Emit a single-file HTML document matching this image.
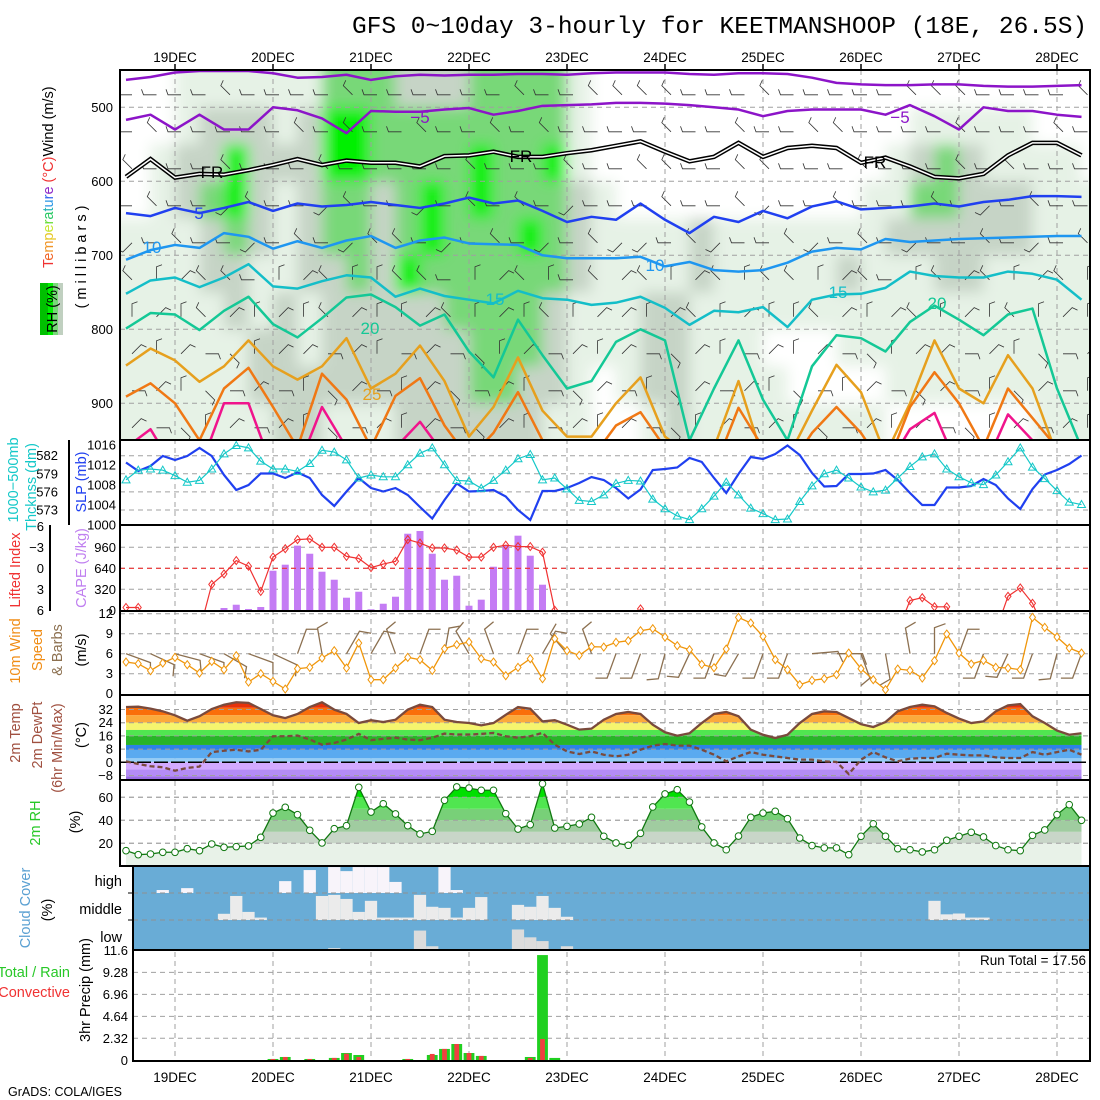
<!DOCTYPE html>
<html><head><meta charset="utf-8"><title>GFS meteogram KEETMANSHOOP</title>
<style>
html,body{margin:0;padding:0;background:#fff;}
svg{display:block;font-family:"Liberation Sans",sans-serif;}
.tk{font-size:13px;fill:#000;}
.lb{font-size:14.5px;}
</style></head>
<body>
<svg id="chart" xmlns="http://www.w3.org/2000/svg" width="1100" height="1100" viewBox="0 0 1100 1100">
<defs>
<clipPath id="cTop"><rect x="120" y="70" width="970" height="370"/></clipPath>
<clipPath id="cP2"><rect x="120" y="440" width="970" height="85"/></clipPath>
<clipPath id="cP3"><rect x="120" y="525" width="970" height="86"/></clipPath>
<clipPath id="cP4"><rect x="120" y="611" width="970" height="83"/></clipPath>
<clipPath id="cP5"><rect x="120" y="695" width="970" height="85"/></clipPath>
<clipPath id="cP6"><rect x="120" y="780" width="970" height="86"/></clipPath>
<clipPath id="cTempFill"><polygon id="tempPoly" points=""/></clipPath>
<clipPath id="cRhFill"><polygon id="rhPoly" points=""/></clipPath>
<filter id="blur" x="-5%" y="-5%" width="110%" height="110%"><feGaussianBlur stdDeviation="7"/></filter>
</defs>
<rect x="0" y="0" width="1100" height="1100" fill="#fff"/>
<text x="352" y="33" style="font-family:'Liberation Mono',monospace;font-size:24.5px">GFS 0~10day 3-hourly for KEETMANSHOOP (18E, 26.5S)</text>

<g id="gTopRH" clip-path="url(#cTop)"><g id="gTopRHinner" filter="url(#blur)"></g></g>
<g id="gGrid"></g>
<g id="gTopBarbs" clip-path="url(#cTop)"></g>
<g id="gIso" clip-path="url(#cTop)"></g>
<g id="gP2" clip-path="url(#cP2)"></g>
<g id="gP3" clip-path="url(#cP3)"></g>
<g id="gP4" clip-path="url(#cP4)"></g>
<g id="gP5" clip-path="url(#cP5)"></g>
<g id="gP6" clip-path="url(#cP6)"></g>
<g id="gCloud"></g>
<g id="gPrecip"></g>
<g id="gTicks"></g>

<g fill="none" stroke="#000" stroke-width="2">
<rect x="120" y="70" width="970" height="370"/>
<rect x="120" y="440" width="970" height="85"/>
<rect x="120" y="525" width="970" height="86"/>
<rect x="120" y="611" width="970" height="84"/>
<rect x="120" y="695" width="970" height="85"/>
<rect x="120" y="780" width="970" height="86"/>
<rect x="133" y="866" width="957" height="84"/>
<rect x="133" y="950" width="957" height="111"/>
<line x1="69" y1="440" x2="69" y2="525"/>
<line x1="50" y1="525" x2="50" y2="611"/>
</g>

<g>
<rect x="40" y="283" width="8" height="52" fill="#00c000"/><rect x="48" y="283" width="5" height="52" fill="#00f000"/><rect x="53" y="283" width="5" height="52" fill="#78d878"/><rect x="58" y="283" width="5" height="52" fill="#c0d0c0"/>
<text transform="translate(57,309) rotate(-90)" text-anchor="middle" class="lb">RH (%)</text>
</g>
<text transform="translate(53,268) rotate(-90)" class="lb"><tspan fill="#f03232">T</tspan><tspan fill="#f06428">e</tspan><tspan fill="#f09628">m</tspan><tspan fill="#e6c828">p</tspan><tspan fill="#c8e632">e</tspan><tspan fill="#64dc32">r</tspan><tspan fill="#28c864">a</tspan><tspan fill="#28b4b4">t</tspan><tspan fill="#2896e6">u</tspan><tspan fill="#3264f0">r</tspan><tspan fill="#8c28c8">e</tspan><tspan fill="#f03232"> (°C)</tspan><tspan fill="#000">Wind (m/s)</tspan></text>
<text transform="translate(86,255) rotate(-90)" text-anchor="middle" class="lb" style="letter-spacing:4px">(millibars)</text>

<text transform="translate(18,480) rotate(-90)" text-anchor="middle" class="lb" fill="#14c8c8">1000−500mb</text>
<text transform="translate(36,487) rotate(-90)" text-anchor="middle" class="lb" fill="#14c8c8">Thcknss (dm)</text>
<text transform="translate(86,482) rotate(-90)" text-anchor="middle" class="lb" fill="#2040f0">SLP (mb)</text>
<text transform="translate(20,570) rotate(-90)" text-anchor="middle" class="lb" fill="#f03232">Lifted Index</text>
<text transform="translate(86,568) rotate(-90)" text-anchor="middle" class="lb" fill="#c080f0">CAPE (J/kg)</text>
<text transform="translate(20,651) rotate(-90)" text-anchor="middle" class="lb" fill="#f08c14">10m Wind</text>
<text transform="translate(42,650) rotate(-90)" text-anchor="middle" class="lb" fill="#f08c14">Speed</text>
<text transform="translate(62,650) rotate(-90)" text-anchor="middle" class="lb" fill="#8c7050">&amp; Barbs</text>
<text transform="translate(86,650) rotate(-90)" text-anchor="middle" class="lb">(m/s)</text>
<text transform="translate(20,733) rotate(-90)" text-anchor="middle" class="lb" fill="#a05040">2m Temp</text>
<text transform="translate(42,735) rotate(-90)" text-anchor="middle" class="lb" fill="#a05040">2m DewPt</text>
<text transform="translate(62,748) rotate(-90)" text-anchor="middle" class="lb" fill="#a05040">(6hr Min/Max)</text>
<text transform="translate(86,735) rotate(-90)" text-anchor="middle" class="lb">(°C)</text>
<text transform="translate(40,823) rotate(-90)" text-anchor="middle" class="lb" fill="#28c828">2m RH</text>
<text transform="translate(80,822) rotate(-90)" text-anchor="middle" class="lb">(%)</text>
<text transform="translate(30,908) rotate(-90)" text-anchor="middle" class="lb" fill="#5aa0d2">Cloud Cover</text>
<text transform="translate(52,910) rotate(-90)" text-anchor="middle" class="lb">(%)</text>
<text x="122" y="886" text-anchor="end" class="lb">high</text>
<text x="122" y="914" text-anchor="end" class="lb">middle</text>
<text x="122" y="942" text-anchor="end" class="lb">low</text>
<text x="70" y="977" text-anchor="end" class="lb" fill="#28c828">Total / Rain</text>
<text x="70" y="997" text-anchor="end" class="lb" fill="#f03232">Convective</text>
<text transform="translate(90,990) rotate(-90)" text-anchor="middle" class="lb">3hr Precip (mm)</text>
<text x="1086" y="965" text-anchor="end" style="font-size:13.5px">Run Total = 17.56</text>
<text x="8" y="1096" style="font-size:12.5px">GrADS: COLA/IGES</text>
</svg>
<script>
// ---------- data ----------
const days = ["19DEC","20DEC","21DEC","22DEC","23DEC","24DEC","25DEC","26DEC","27DEC","28DEC"];
const pressTicks = [500,600,700,800,900];
const isoM10 = [463,459,453,451,451,451,454,460,459,456,463,458,456,457,456,456,455,455,456,454,453,453,453,455,456,454,454,455,460,467,469,470,470,469,469,471,472,472,471,470];
const isoM5 = [517,510,530,510,530,530,500,504,515,535,505,506,506,503,501,510,505,498,497,496,494,494,495,497,500,503,512,505,503,503,503,510,497,512,530,500,505,505,510,513];
const isoFR = [594,570,595,590,591,585,578,570,578,572,575,575,580,566,565,560,567,567,562,558,552,546,560,573,567,548,567,555,552,555,575,568,580,594,596,590,565,548,548,565];
const iso5 = [643,647,636,643,636,628,640,630,634,632,628,632,636,630,622,630,626,640,655,648,652,630,652,670,648,655,640,650,634,627,638,636,634,630,634,628,625,620,620,621];
const iso10 = [706,693,686,690,670,675,691,681,690,680,674,690,680,676,684,685,686,700,704,704,704,702,715,709,720,722,720,710,695,690,692,678,682,680,678,677,676,675,674,674];
const iso15 = [752,734,730,743,730,712,742,745,735,727,730,756,745,755,760,765,748,758,760,767,764,756,771,794,775,777,770,797,760,753,752,744,722,728,730,730,722,725,733,760];
const iso20 = [799,778,780,801,775,756,793,811,785,757,753,770,795,780,830,865,787,835,880,870,817,800,815,950,880,815,895,950,850,808,812,830,790,768,787,808,780,772,880,960];
const iso25 = [849,826,842,871,850,815,850,868,850,812,880,860,822,870,945,905,838,910,945,945,900,865,945,970,960,870,975,975,910,848,885,970,900,815,880,900,835,880,970,990];
const iso30 = [891,873,900,950,880,852,905,960,860,895,960,890,866,930,975,940,885,950,980,975,930,912,960,980,990,906,960,990,940,905,940,990,905,858,900,960,880,920,960,990];
const iso35 = [960,935,990,990,900,900,990,990,905,960,990,960,925,970,990,990,990,990,990,990,990,990,990,990,990,990,990,990,990,990,990,990,935,913,990,990,915,950,990,990];
const rhCols = ["0000111111","0011111111","1122111111","1223221111","1244322111","1222211221","1121112222","1222221122","3443322221","3443332221","3332222221","2333342222","2334432222","2333333222","3344333332","3333333332","3333433322","3343332221","1112221111","0001111100","0000111110","0000112221","0000112222","0000221111","0000111111","0000111111","0000111011","0000111001","0000111001","0000121101","0001111101","0011211110","0123211110","0133221110","0122221110","0112211110","0112211110","0011111111","0011111111","0001111111"];
const barb475 = "6666766667666666766777766676666677766667";
const barb525 = "6766666767667667676666766766776666766676";
const barb575 = "7666766676666676667667766776667666767666";
const barb625 = "6766576657665676765666766756676667656766";
const barb675 = "5676656765776567656755675667567656676567";
const barb725 = "7017760170077601706717017077017607170170";
const barb775 = "0107101071001701070110170100710170107010";
const barb825 = "1012301121021230121012310210123011210321";
const barb875 = "2103212031201321023120312103201231203120";
const barb925 = "1230121032101231021012301210321012301210";
const slp = [1012.5,1010.8,1011.8,1013.8,1013,1013.8,1015.4,1013.8,1010,1007,1008,1010.3,1010.3,1009.4,1010.5,1009.4,1006,1003.8,1006.7,1009.4,1007.4,1006.7,1007.4,1006,1003.6,1001.3,1005,1008.3,1006.7,1006.8,1007,1005.7,1003,1001,1006.8,1006.8,1007.4,1008.4,1009.6,1009,1007.4,1005.3,1007.1,1011,1011.2,1011.5,1013.4,1012.6,1009.4,1006.4,1010.2,1013.6,1013.2,1014.2,1015.9,1014,1010.4,1007.7,1007.8,1010.2,1010.2,1010.3,1011,1009,1006.4,1004,1004,1007.5,1007.5,1007.8,1009.2,1008,1005.3,1003.2,1007.2,1010.1,1011,1012.2,1013.9];
const thickness = [578.0,579.6,579.8,579.6,578.7,577.6,577.9,579.8,582.3,583.7,583.3,581.1,579.8,579.8,579.4,580.7,582.9,582.6,581.3,578.3,578.8,578.5,578.5,580.5,582.4,583.3,580.5,577.9,577.8,576.6,577.9,579.6,581.5,582.2,578.0,578.3,576.5,574.6,574.4,575.5,577.4,577.9,577.8,574.8,573.2,572,571.4,573.2,575.3,577.6,575.5,573.3,572.4,571.4,571.5,574.4,577,579,579.6,578.3,576.8,576,576.3,578.3,580.2,581.8,582.3,579.8,578.5,577.5,577.2,578.8,581,583.3,580.1,578.2,576.2,574.3,573.9];
const liftedIndex = [5.6,5.6,9,9,9,9,9,2.3,0.8,-1.1,-0.3,3.3,-1.6,-2.8,-4.1,-4.2,-3.0,-3.0,-1.7,-1.4,-0.1,-0.6,-1.0,-4.1,-3.6,-2.9,-2.9,-2.6,-1.6,-1.6,-3.0,-3.3,-3.1,-3.1,-2.3,6.0,9,9,9,9,9,9,5.8,9,9,9,9,9,9,9,9,9,9,9,9,9,9,9,9,9,9,9,9,9,4.6,4.2,5.5,5.5,9,9,9,9,4.0,2.8,5.0,9,9,9,9];
const cape = [0,0,0,0,0,0,0,0,35,85,20,50,603,695,985,862,588,466,192,283,15,100,207,1167,1208,862,466,527,70,162,664,995,1137,832,390,0,0,0,0,0,0,0,0,0,0,0,0,0,0,0,0,0,0,0,0,0,0,0,0,0,0,0,0,0,0,0,0,0,0,0,0,0,0,0,0,0,0,0,0];
const windSpeed = [4.75,4.5,3.45,4.6,5.45,4.35,3.1,4.85,3.6,5.7,1.75,3.0,1.85,0.7,3.75,3.95,5.35,6.45,3.85,7.6,2.1,2.1,3.85,5.45,5.1,3.5,6.75,7.35,7.75,5.25,4.75,2.7,3.95,5.25,2.25,8.25,6.45,5.75,7.05,7.0,7.7,7.95,9.45,9.75,8.5,7.2,6.6,4.4,3.9,6.7,11.45,10.6,8.6,5.1,3.6,1.35,2.0,2.25,2.85,6.1,3.75,2.1,0.6,3.7,3.5,2.35,4.95,8.95,6.1,4.45,5.0,3.95,3.85,3.6,11.45,9.95,8.5,6.85,6.1];
const windDir = [110,115,105,110,120,110,115,20,350,30,30,340,20,10,330,340,20,30,320,340,200,200,195,205,200,210,200,200,85,90,160,170,350,0,20,200,205,200,195,200];
const temp2m = [33.5,33.7,32.5,30.9,28.5,25.2,27.9,32.3,34.9,36.4,36,32.3,28.5,26.8,29.3,33.5,36.4,31.9,29.3,23.8,25.5,24.4,25.8,31.9,34.9,33.5,25.8,24.4,23.8,22.4,23.8,28.8,33.5,32.5,24.8,25.5,22.8,19.8,20.4,25.8,29.3,30.5,29.3,22.8,18.2,16.1,17.6,23.8,29.3,30.5,27.9,19.8,16.7,14.7,16.7,23.8,29.3,30.9,30.5,26.8,23.1,21.4,24.4,30.9,33.5,34.9,33.9,29.9,26.5,23.8,24.8,30.9,34.5,35.3,27.9,23.8,19.2,16.7,17.6];
const dew2m = [0.6,-1,-2.4,-3,-5.1,-3.4,-2.6,6.2,7.0,7.6,6.6,7.6,15.8,15.8,16.2,13.8,10.7,11.7,13.8,17.2,13.4,14.2,14.9,13.8,13.4,14.9,17.4,16.8,16.8,17.2,17.8,15.8,14.9,15.8,17.8,10.7,6.6,5.0,6.6,4.6,3.6,4.6,7.6,10.1,11.1,10.1,10.1,7.6,4.6,0.6,3.6,6.2,4.6,3.6,2.6,1.6,1.6,0.6,0.2,-7.1,1.6,6.2,3.0,0.6,2.2,2.6,2.6,5.2,4.6,4.2,4.2,3.0,2.6,2.6,6.2,4.6,6.2,7.6,4.6];
const rh2m = [13.6,10.1,10.7,12.2,12.2,15.3,13.6,19.4,16.5,17.1,17.7,25.2,46.3,51.3,44.9,31.3,20.3,32.7,35.3,68.7,47.2,54.4,45.5,35.3,28.1,30.4,57.4,69,68,66.1,66.1,45.8,32.4,36.2,71.8,33.3,34.8,36.8,42.6,26.1,20.3,18.3,28.7,51.6,62.9,66.6,55.9,34.2,20.3,14.4,26.3,42.6,46.3,47.8,41.4,24.6,18,16,16,10.1,26.1,37,26.1,15.3,14.4,12.5,14.4,22.6,26.1,29.6,25.5,18,14.4,13.6,26.9,31.6,44.9,53.6,40];
const cloudHigh = [0,0,0,11,0,18,0,0,0,0,0,0,0,44,0,85,0,96,81,96,96,96,41,0,0,0,96,11,0,0,0,0,0,0,0,0,0,0,0,0,0,0,0,0,0,0,0,0,0,0,0,0,0,0,0,0,0,0,0,0,0,0,0,0,0,0,0,0,0,0,0,0,0,0,0,0,0,0,0];
const cloudMid = [0,0,0,0,0,0,0,0,23,89,30,9,0,0,0,0,89,93,78,30,71,9,9,9,93,49,45,9,45,85,0,0,56,49,89,45,12,0,0,0,0,0,0,0,0,0,0,0,0,0,0,0,0,0,0,0,0,0,0,0,0,0,0,0,0,0,71,21,24,9,9,0,0,0,0,0,0,0,0];
const cloudLow = [0,0,0,0,0,0,0,0,0,0,0,0,0,0,0,0,0,7,0,0,0,0,0,0,72,14,0,0,0,0,0,0,76,47,33,0,14,0,0,0,0,0,0,0,0,0,0,0,0,0,0,0,0,0,0,0,0,0,0,0,0,0,0,0,0,0,0,0,0,0,0,0,0,0,0,0,0,0,0];
const precipTotal = [0,0,0,0,0,0,0,0,0,0,0,0,0.14,0.35,0,0.14,0,0.25,0.77,0.56,0,0,0,0.14,0,0.56,1.2,1.72,0.77,0.46,0,0,0,0.35,11.1,0.25,0,0,0,0,0,0,0,0,0,0,0,0,0,0,0,0,0,0,0,0,0,0,0,0,0,0,0,0,0,0,0,0,0,0,0,0,0,0,0,0,0,0,0];
const precipConv = [0,0,0,0,0,0,0,0,0,0,0,0,0.14,0.35,0,0.14,0,0.25,0.7,0.35,0,0,0,0.14,0,0.67,1.2,1.72,0.77,0.46,0,0,0,0.25,2.25,0,0,0,0,0,0,0,0,0,0,0,0,0,0,0,0,0,0,0,0,0,0,0,0,0,0,0,0,0,0,0,0,0,0,0,0,0,0,0,0,0,0,0,0];
const thkTicks = [582,579,576,573];
const slpTicks = [1016,1012,1008,1004,1000];
const liTicks = [-6,-3,0,3,6];
const capeTicks = [960,640,320];
const windTicks = [0,3,6,9,12];
const tempTicks = [32,24,16,8,0,-8];
const rhTicks = [20,40,60];
const precipTicks = [0,2.32,4.64,6.96,9.28,11.6];

// ---------- scales ----------
const X = i => 126 + 12.25 * i;
const P = p => 107.3 + (p - 500) * 0.74;
const ySLP = v => 445 + (1016 - v) * 5;
const yThk = v => 455.7 + (582 - v) * 6.03;
const yLI = v => 568.3 + v * 7.0;
const yCAPE = v => 610.3 - v * 21 / 320;
const yW = v => 693.7 - v * 6.667;
const yT = v => 762.3 - v * 1.65;
const yRH = v => 866.3 - v * 1.15;
const yPr = v => 1060.3 - v * 9.48;
const CLOUD_BOTTOMS = [893, 920, 950];

const NS = "http://www.w3.org/2000/svg";
function mk(parent, tag, attrs) {
  const e = document.createElementNS(NS, tag);
  for (const k in attrs) e.setAttribute(k, attrs[k]);
  parent.appendChild(e);
  return e;
}
const $ = id => document.getElementById(id);

// ---------- grid ----------
const gGrid = $("gGrid");
days.forEach((d, k) => {
  const x = X(4 + 8 * k);
  const ln = mk(gGrid, "line", {x1:x, y1:70, x2:x, y2:1061, stroke:"#a0a0a0", "stroke-dasharray":"5,4", "stroke-width":1});
  
  
  const t1 = mk($("gTicks"), "text", {x:x, y:62, "text-anchor":"middle", style:"font-size:13.5px"});
  t1.textContent = d;
  
  
  const t2 = mk($("gTicks"), "text", {x:x, y:1082, "text-anchor":"middle", style:"font-size:13.5px"});
  t2.textContent = d;
  
  
  const tk = mk(gGrid, "line", {x1:x, y1:64, x2:x, y2:70, stroke:"#000", "stroke-width":1.5});
  
  
});
function hgrid(y, x0, name) {
  const l = mk(gGrid, "line", {x1:x0, y1:y, x2:1090, y2:y, stroke:"#a0a0a0", "stroke-dasharray":"5,4", "stroke-width":1});
  
  
}
function tick(x, y, txt, name, color) {
  const t = mk($("gTicks"), "text", {x:x, y:y + 4.5, "text-anchor":"end", class:"tk", fill: color || "#000"});
  t.textContent = txt;
  
  
}
pressTicks.forEach(p => { hgrid(P(p), 120, 'pressure-gridline'); tick(113, P(p), p, 'pressure-tick'); });
thkTicks.forEach(v => { hgrid(yThk(v), 120, 'thickness-gridline'); tick(58, yThk(v), v, 'thickness-tick'); });
slpTicks.forEach(v => tick(116, ySLP(v), v, 'slp-tick'));
liTicks.forEach(v => tick(44, yLI(v), v === 0 ? "0" : (v < 0 ? "−" + (-v) : v), 'li-tick'));
capeTicks.forEach(v => { hgrid(yCAPE(v), 120, 'cape-gridline'); tick(116, yCAPE(v), v, 'cape-tick'); });
tick(116, yCAPE(0), "0", 'cape-tick');
windTicks.forEach(v => { if (v > 0 && v < 12) hgrid(yW(v), 120, 'wind-gridline'); tick(113, yW(v), v, 'wind-tick'); });
hgrid(yW(12), 120, 'wind-gridline');
tempTicks.forEach(v => { if (v !== 0) hgrid(yT(v), 120, 'temp-gridline'); tick(113, yT(v), v === -8 ? "−8" : v, 'temp-tick'); });
rhTicks.forEach(v => { hgrid(yRH(v), 120, 'rh-gridline'); tick(113, yRH(v), v, 'rh-tick'); });
precipTicks.forEach(v => { if (v > 0) hgrid(yPr(v), 133, 'precip-gridline'); tick(128, yPr(v), v, 'precip-tick'); });

// ---------- top panel RH shading ----------
const rhColors = ["#ffffff","#e6f2e6","#c6d4c6","#78d878","#00f000"];
const gR = $("gTopRHinner");
rhCols.forEach((col, c) => {
  for (let r = 0; r < col.length; r++) {
    const p0 = r === 0 ? 400 : 450 + 50 * r;
    const p1 = r === col.length - 1 ? 1010 : 500 + 50 * r;
    const x0 = c === 0 ? 100 : X(2 * c);
    const x1 = c === rhCols.length - 1 ? 1110 : X(2 * c + 2);
    const cell = mk(gR, "rect", {x:x0, y:P(p0), width:x1 - x0 + 0.5, height:P(p1) - P(p0) + 0.5, fill:rhColors[+col[r]]});
    
    
  }
});

// ---------- barbs ----------
function drawBarb(g, x, y, dir, L, color, sw, name) {
  const a = dir * Math.PI / 180;
  const tx = x + Math.sin(a) * L, ty = y - Math.cos(a) * L;
  const b = a + 70 * Math.PI / 180;
  const s = mk(g, "path", {d:`M${x},${y}L${tx},${ty}L${tx + Math.sin(b) * L * 0.45},${ty - Math.cos(b) * L * 0.45}`, fill:"none", stroke:color, "stroke-width":sw});
  
  
}
const barbLevels = [[475,barb475],[525,barb525],[575,barb575],[625,barb625],[675,barb675],[725,barb725],[775,barb775],[825,barb825],[875,barb875],[925,barb925]];
barbLevels.forEach(([p, s]) => {
  for (let c = 0; c < s.length; c++) drawBarb($("gTopBarbs"), X(2 * c) + 6, P(p) + 6, (+s[c]) * 45, 13, "#333", 0.8, 'upper-wind-barb');
});

// ---------- isotherms ----------
const isoDefs = [[isoM10,"#8c14c8",2.5],[isoM5,"#8c14c8",2.5],[iso5,"#2040f0",2.5],[iso10,"#1e96f0",2.5],[iso15,"#14bec8",2.5],[iso20,"#14c896",2.5],[iso25,"#e6a01e",2.5],[iso30,"#f07814",2.5],[iso35,"#f0148c",2.5]];
const gI = $("gIso");
isoDefs.forEach(([arr, col, w]) => {
  const pl = mk(gI, "polyline", {points:arr.map((p, k) => X(2 * k) + "," + P(p)).join(" "), fill:"none", stroke:col, "stroke-width":w, "stroke-linejoin":"round"});
  
  
});
const frPts = isoFR.map((p, k) => X(2 * k) + "," + P(p)).join(" ");
const fr1 = mk(gI, "polyline", {points:frPts, fill:"none", stroke:"#000", "stroke-width":4.5});


const fr2 = mk(gI, "polyline", {points:frPts, fill:"none", stroke:"#fff", "stroke-width":1.5});


const isoLabels = [["−5",420,123,"#8c14c8"],["−5",900,123,"#8c14c8"],["FR",212,178,"#000"],["FR",521,162,"#000"],["FR",875,168,"#000"],["5",199,219,"#2040f0"],["10",152,253,"#1e96f0"],["10",655,271,"#1e96f0"],["15",495,305,"#14bec8"],["15",838,298,"#14bec8"],["20",370,334,"#14c896"],["20",937,309,"#14c896"],["25",372,400,"#e6a01e"]];
isoLabels.forEach(([t, x, y, c]) => {
  const bg = mk(gI, "text", {x:x, y:y, "text-anchor":"middle", fill:c, style:"font-size:17px"});
  bg.textContent = t;
  
  
});

// ---------- panel 2: SLP & thickness ----------
const g2 = $("gP2");
const slpLine = mk(g2, "polyline", {points:slp.map((v, i) => X(i) + "," + ySLP(v)).join(" "), fill:"none", stroke:"#2040f0", "stroke-width":2.2});


const thkLine = mk(g2, "polyline", {points:thickness.map((v, i) => X(i) + "," + yThk(v)).join(" "), fill:"none", stroke:"#14c8c8", "stroke-width":1.2});


thickness.forEach((v, i) => {
  const x = X(i), y = yThk(v);
  const tri = mk(g2, "path", {d:`M${x},${y - 4}L${x + 4},${y + 3}L${x - 4},${y + 3}Z`, fill:"none", stroke:"#14c8c8", "stroke-width":1});
  
  
});

// ---------- panel 3: LI & CAPE ----------
const g3 = $("gP3");
cape.forEach((v, i) => {
  if (v <= 0) return;
  const bar = mk(g3, "rect", {x:X(i) - 3.5, y:yCAPE(v), width:7, height:yCAPE(0) - yCAPE(v), fill:"#c47cf4"});
  
  
});
const li0 = mk(g3, "line", {x1:120, y1:yLI(0), x2:1090, y2:yLI(0), stroke:"#f03232", "stroke-dasharray":"5,4", "stroke-width":1.2});


const liLine = mk(g3, "polyline", {points:liftedIndex.map((v, i) => X(i) + "," + yLI(v)).join(" "), fill:"none", stroke:"#f03232", "stroke-width":1.2});


liftedIndex.forEach((v, i) => {
  if (v > 6.2) return;
  const x = X(i), y = yLI(v);
  const d = mk(g3, "path", {d:`M${x},${y - 4}L${x + 3},${y}L${x},${y + 4}L${x - 3},${y}Z`, fill:"none", stroke:"#f03232", "stroke-width":1});
  
  
});

// ---------- panel 4: wind ----------
const g4 = $("gP4");
windDir.forEach((d, k) => drawBarb(g4, X(2 * k), yW(6), d, 26, "#8c7050", 1.3, 'sfc-wind-barb'));
const wLine = mk(g4, "polyline", {points:windSpeed.map((v, i) => X(i) + "," + yW(v)).join(" "), fill:"none", stroke:"#f0960a", "stroke-width":1.3});


windSpeed.forEach((v, i) => {
  const x = X(i), y = yW(v);
  const d = mk(g4, "path", {d:`M${x},${y - 4}L${x + 3},${y}L${x},${y + 4}L${x - 3},${y}Z`, fill:"#fff", stroke:"#f0960a", "stroke-width":1});
  
  
});

// ---------- panel 5: temperature ----------
const g5 = $("gP5");
$("tempPoly").setAttribute("points", temp2m.map((v, i) => X(i) + "," + yT(v)).join(" ") + ` ${X(78)},781 ${X(0)},781`);
const tempBands = [[33,50,"#e8320a"],[28.5,33,"#fa6e0a"],[24,28.5,"#fbaa3c"],[19.6,24,"#f5f56e"],[16,19.6,"#50e650"],[10.5,16,"#28b428"],[7.5,10.5,"#2d82e6"],[2.4,7.5,"#5aaaf0"],[0,2.4,"#96cdf5"],[-4.4,0,"#d2aaff"],[-8.5,-4.4,"#b48cf5"],[-20,-8.5,"#9b6ee6"]];
const gTF = mk(g5, "g", {"clip-path":"url(#cTempFill)"});


tempBands.forEach(([lo, hi, c]) => {
  const r = mk(gTF, "rect", {x:X(0), y:yT(hi), width:X(78) - X(0), height:yT(lo) - yT(hi), fill:c});
  
  
});
tempTicks.forEach(v => {
  if (v === 0) return;
  const l = mk(g5, "line", {x1:120, y1:yT(v), x2:1090, y2:yT(v), stroke:"#a0a0a0", "stroke-dasharray":"5,4"});
  
  
});
const zl = mk(g5, "line", {x1:120, y1:yT(0), x2:1090, y2:yT(0), stroke:"#000", "stroke-width":1.5, "stroke-dasharray":"14,3"});


const tl = mk(g5, "polyline", {points:temp2m.map((v, i) => X(i) + "," + yT(v)).join(" "), fill:"none", stroke:"#7a4a3c", "stroke-width":2.3});


const dl = mk(g5, "polyline", {points:dew2m.map((v, i) => X(i) + "," + yT(v)).join(" "), fill:"none", stroke:"#7a4a3c", "stroke-width":2.3, "stroke-dasharray":"5,3"});



// ---------- panel 6: RH ----------
const g6 = $("gP6");
$("rhPoly").setAttribute("points", rh2m.map((v, i) => X(i) + "," + yRH(v)).join(" ") + ` ${X(78)},867 ${X(0)},867`);
const rhBands = [[0,20,"#e8f2e8"],[20,30,"#c8d6c8"],[30,40,"#a0cca0"],[40,50,"#78d078"],[50,60,"#50e650"],[60,100,"#00e000"]];
const gRF = mk(g6, "g", {"clip-path":"url(#cRhFill)"});


rhBands.forEach(([lo, hi, c]) => {
  const r = mk(gRF, "rect", {x:X(0), y:yRH(hi), width:X(78) - X(0), height:yRH(lo) - yRH(hi), fill:c});
  
  
});
rhTicks.forEach(v => {
  const l = mk(g6, "line", {x1:120, y1:yRH(v), x2:1090, y2:yRH(v), stroke:"#a0a0a0", "stroke-dasharray":"5,4"});
  
  
});
const rl = mk(g6, "polyline", {points:rh2m.map((v, i) => X(i) + "," + yRH(v)).join(" "), fill:"none", stroke:"#107810", "stroke-width":1.3});


rh2m.forEach((v, i) => {
  const c = mk(g6, "circle", {cx:X(i), cy:yRH(v), r:3.3, fill:"#fff", stroke:"#107810", "stroke-width":1});
  
  
});

// ---------- cloud ----------
const gC = $("gCloud");
const cbg = mk(gC, "rect", {x:133, y:866, width:957, height:84, fill:"#69acd6"});


[[cloudHigh,"#f8f4fa",0],[cloudMid,"#ebebeb",1],[cloudLow,"#dcdcdc",2]].forEach(([arr, col, b]) => {
  arr.forEach((v, i) => {
    if (v <= 0) return;
    const h = v / 100 * 27;
    const r = mk(gC, "rect", {x:X(i) - 6.125, y:CLOUD_BOTTOMS[b] - h, width:12.25, height:h, fill:col});
    
    
  });
});
[893,920].forEach(y => {
  const l = mk(gC, "line", {x1:133, y1:y, x2:1090, y2:y, stroke:"#909090", "stroke-dasharray":"5,4"});
  
  
  const t = mk(gC, "line", {x1:128, y1:y, x2:133, y2:y, stroke:"#000"});
  
  
});

// ---------- precip ----------
const gPr = $("gPrecip");
precipTotal.forEach((v, i) => {
  if (v <= 0) return;
  const r = mk(gPr, "rect", {x:X(i) - 5.4, y:yPr(v), width:10.8, height:yPr(0) - yPr(v), fill:"#20d020"});
  
  
});
precipConv.forEach((v, i) => {
  if (v <= 0) return;
  const r = mk(gPr, "rect", {x:X(i) - 2.4, y:yPr(v), width:4.8, height:yPr(0) - yPr(v), fill:"#f04040"});
  
  
});
</script>
</body></html>
